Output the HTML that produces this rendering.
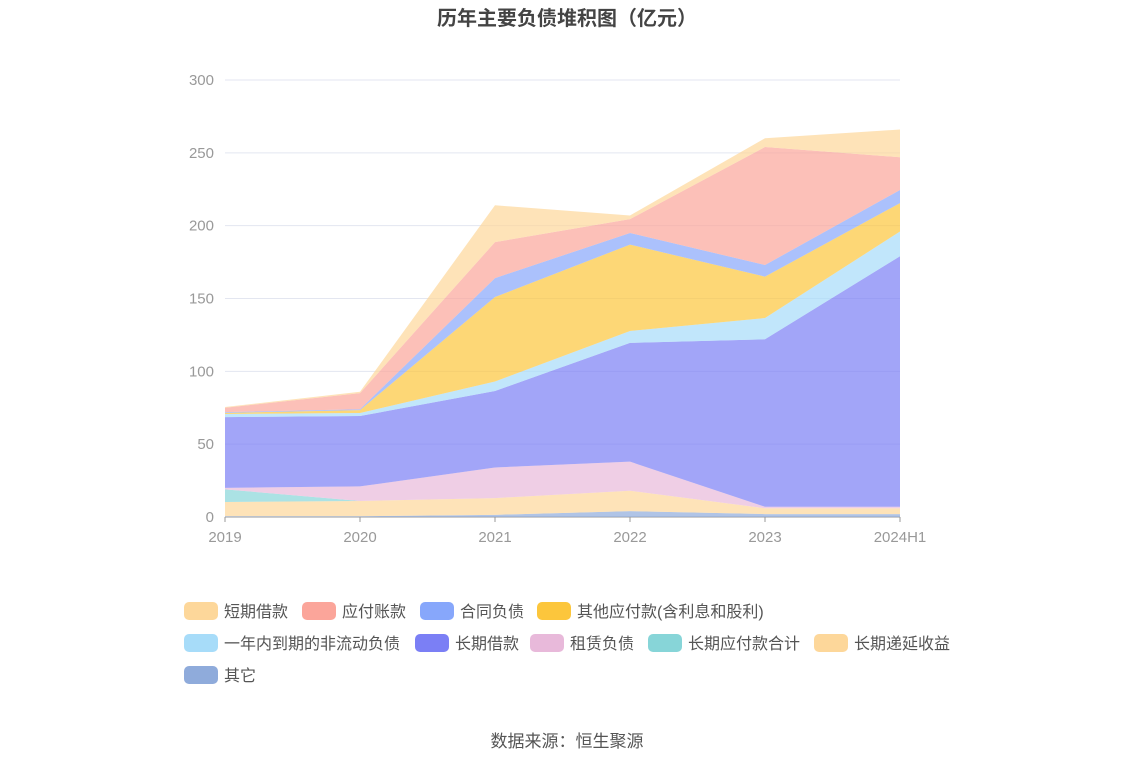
<!DOCTYPE html>
<html><head><meta charset="utf-8"><style>
body{margin:0;background:#fff;font-family:"Liberation Sans","Noto Sans CJK SC",sans-serif;}
#wrap{position:relative;width:1134px;height:766px;overflow:hidden;}
</style></head><body>
<div id="wrap">
<svg id="chart" width="1134" height="766">
<text x="567" y="25" text-anchor="middle" font-size="20" font-weight="bold" fill="#444">历年主要负债堆积图（亿元）</text>
<text x="567" y="747" text-anchor="middle" font-size="17" fill="#555">数据来源：恒生聚源</text>
</svg>
</div>
<script>
const categories=["2019","2020","2021","2022","2023","2024H1"];
const yTicks=[0,50,100,150,200,250,300];
const seriesNames=["其它","长期递延收益","长期应付款合计","租赁负债","长期借款","一年内到期的非流动负债","其他应付款(含利息和股利)","合同负债","应付账款","短期借款"];
const sOther=[0.5,0.5,1.5,4,2,2];
const sDeferred=[9.8,10.5,11.5,14,4,4];
const sLongPayable=[8.7,0,0,0,0,0];
const sLease=[1,10,21,20,1,1];
const sLongLoan=[48.6,48.3,52.5,81.5,115,172];
const sCurrentNonCur=[2.1,2.1,6.5,8.2,14.6,17];
const sOtherPayable=[0.8,2,58,59.3,28.4,19.5];
const sContract=[0.5,0.6,13,8,8,9];
const sAccounts=[3,11,24.7,9.5,81,22.5];
const sShortLoan=[0.5,1,25.3,2.5,6,19];
const seriesData=[sOther,sDeferred,sLongPayable,sLease,sLongLoan,sCurrentNonCur,sOtherPayable,sContract,sAccounts,sShortLoan];
const colors=["#8fabdb","#fdd79a","#87d5d8","#e8b9da","#7b7ff5","#a7dcf9","#fcc63c","#87a7fb","#fba59a","#fdd79a"];
const names=["other","deferred-income","long-term-payable","lease-liability","long-term-loan","current-noncurrent","other-payable","contract-liability","accounts-payable","short-term-loan"];
const NS="http://www.w3.org/2000/svg";
const svg=document.getElementById("chart");
const x0=225,x1=900,yb=517,yt=80,ymax=300;
const xs=i=>x0+i*(x1-x0)/(categories.length-1);
const ys=v=>yb-v*(yb-yt)/ymax;
function mk(t,a){const e=document.createElementNS(NS,t);for(const k in a)e.setAttribute(k,a[k]);svg.appendChild(e);return e;}
yTicks.forEach(v=>{
 const l=mk("line",{x1:x0,x2:x1,y1:ys(v),y2:ys(v),stroke:v===0?"#999":"#e3e6f0","stroke-width":1});
 
 
 const t=mk("text",{x:214,y:ys(v)+5,"text-anchor":"end","font-size":15,fill:"#999"});t.textContent=v;
 
 
});
let cum=categories.map(()=>0);
seriesData.forEach((s,k)=>{
 const lower=cum.slice();const upper=cum.map((c,i)=>c+s[i]);
 let d="M"+categories.map((c,i)=>xs(i)+","+ys(upper[i])).join(" L");
 for(let i=categories.length-1;i>=0;i--)d+=" L"+xs(i)+","+ys(lower[i]);
 const p=mk("path",{d:d+"Z",fill:colors[k],"fill-opacity":0.7,stroke:"none"});
 
 
 cum=upper;
});
categories.forEach((c,i)=>{
 const tk=mk("line",{x1:xs(i),x2:xs(i),y1:yb,y2:yb+5,stroke:"#999"});
 
 
 const t=mk("text",{x:xs(i),y:542,"text-anchor":"middle","font-size":15,fill:"#999"});t.textContent=c;
 
 
});
const legend=[["短期借款",184,611,9],["应付账款",302,611,8],["合同负债",420,611,7],["其他应付款(含利息和股利)",537,611,6],
["一年内到期的非流动负债",184,643,5],["长期借款",415,643,4],["租赁负债",530,643,3],["长期应付款合计",648,643,2],["长期递延收益",814,643,1],["其它",184,675,0]];
legend.forEach(([n,x,y,k])=>{
 const r=mk("rect",{x:x,y:y-9,width:34,height:18,rx:5,fill:colors[k]});
 
 
 const t=mk("text",{x:x+40,y:y+6,"font-size":16,fill:"#555"});t.textContent=n;
 
 
});
</script>
</body></html>
